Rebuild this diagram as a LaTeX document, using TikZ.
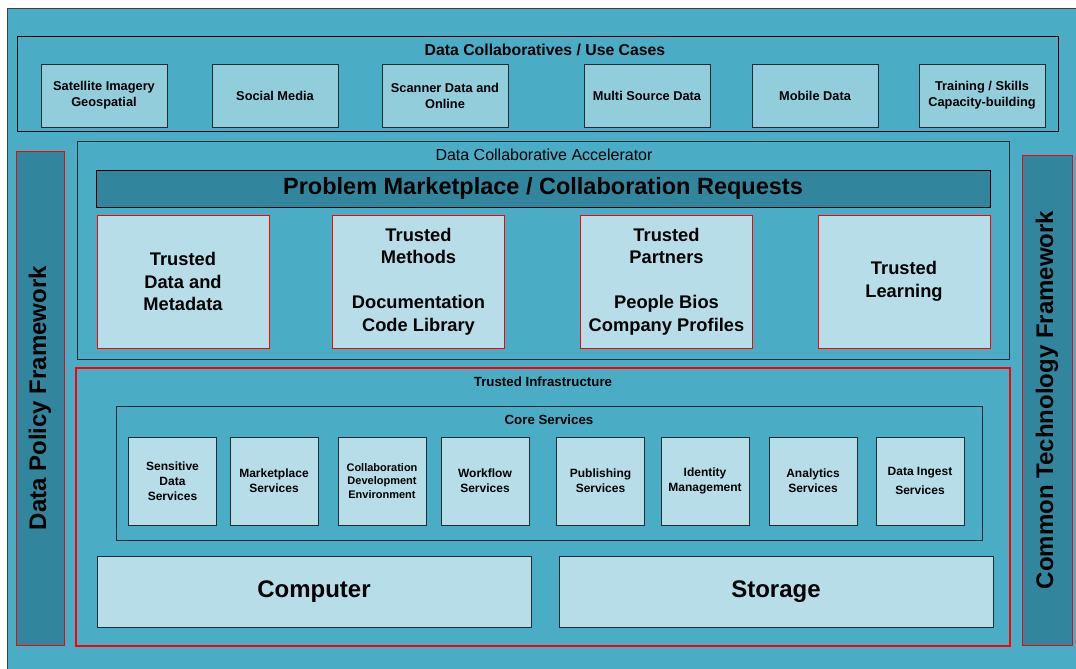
\documentclass[tikz,border=0pt]{standalone}
\usepackage{fontspec}
\setmainfont{Liberation Sans}
\definecolor{aqua}{HTML}{4BACC6}
\definecolor{aquadark}{HTML}{31859C}
\definecolor{aquamid}{HTML}{92CDDC}
\definecolor{aqualight}{HTML}{B6DDE8}
\definecolor{edge}{HTML}{1C2E33}

\begin{document}
\begin{tikzpicture}[x=1pt,y=-1pt,
    frame/.style = {draw=edge,semithick},
    redframe/.style = {draw=red,very thick},
    title/.style = {font=\fontsize{13.3}{16}\selectfont\bfseries},
    ucbox/.style = {rectangle,draw=edge,fill=aquamid,semithick,minimum width=126pt,minimum height=63pt,align=center,inner sep=1pt,font=\fontsize{12.8}{16}\selectfont\bfseries},
    trustbox/.style = {rectangle,draw=red,fill=aqualight,thin,minimum width=172pt,minimum height=133pt,align=center,font=\fontsize{18.3}{22.5}\selectfont\bfseries},
    corebox/.style = {rectangle,draw=edge,fill=aqualight,semithick,minimum width=88pt,minimum height=88pt,align=center,inner sep=1pt,font=\fontsize{12}{15}\selectfont\bfseries},
    bigbox/.style = {rectangle,draw=edge,fill=aqualight,semithick,minimum width=434pt,minimum height=71pt,font=\fontsize{24}{28}\selectfont\bfseries},
    sidebar/.style = {rectangle,draw=red,fill=aquadark,thin,rotate=90,font=\fontsize{24}{28}\selectfont\bfseries}]
\useasboundingbox (0,0) rectangle (1076,669);
\fill[aqua] (7,8) rectangle (1076,669);
\draw[draw=black!75,semithick] (7,669) -- (7,8) -- (1076,8);

% use cases
\draw[frame,draw=black] (17,36) rectangle (1058,131);
\node[title,font=\fontsize{15.8}{18}\selectfont\bfseries] (casestitle) at (545,50) {Data Collaboratives / Use Cases};
\foreach \x/\t [count=\i] in {104/{Satellite Imagery\\Geospatial}, 275/{Social Media}, 445/{Scanner Data and\\Online},
                              647/{Multi Source Data}, 815/{Mobile Data}, 982/{Training / Skills\\Capacity-building}}
    \node[ucbox] (uc\i) at (\x,95.5) {\t};

% frameworks
\node[sidebar,minimum width=494pt,minimum height=48pt] (policy) at (40,398) {Data Policy Framework};
\node[sidebar,minimum width=490pt,minimum height=50pt] (techfw) at (1047,400) {Common Technology Framework};

% accelerator
\draw[frame] (77,141) rectangle (1009,359);
\node[font=\fontsize{16}{18}\selectfont] (acceltitle) at (544,155) {Data Collaborative Accelerator};
\node[rectangle,draw=black,fill=aquadark,semithick,minimum width=894pt,minimum height=37pt,font=\fontsize{23.5}{26}\selectfont\bfseries] (market) at (543,188.5) {Problem Marketplace / Collaboration Requests};
\foreach \x/\t [count=\i] in {183/{Trusted\\Data and\\Metadata}, 418.5/{Trusted\\Methods\\[22.5pt]Documentation\\Code Library},
                              666.5/{Trusted\\Partners\\[22.5pt]People Bios\\Company Profiles}, 904/{Trusted\\Learning}}
    \node[trustbox] (trust\i) at (\x,281.5) {\t};

% infrastructure
\draw[redframe] (76,368) rectangle (1010,646);
\node[title] (infratitle) at (543,382) {Trusted Infrastructure};
\draw[frame] (116,406) rectangle (982,540);
\node[title] (coretitle) at (549,420) {Core Services};
\foreach \x/\t [count=\i] in {172.5/{Sensitive\\Data\\Services}, 274/{Marketplace\\Services}, 485/{Workflow\\Services},
                              600.5/{Publishing\\Services}, 705/{Identity\\Management}, 813/{Analytics\\Services}, 920/{Data Ingest\\[4pt]Services}}
    \node[corebox] (core\i) at (\x,481) {\t};
\node[corebox,font=\fontsize{11}{13.5}\selectfont\bfseries] (collab) at (382,481) {Collaboration\\Development\\Environment};
\node[bigbox] (computer) at (314,591.5) {Computer};
\node[bigbox] (storage) at (776,591.5) {Storage};
\end{tikzpicture}
\end{document}
